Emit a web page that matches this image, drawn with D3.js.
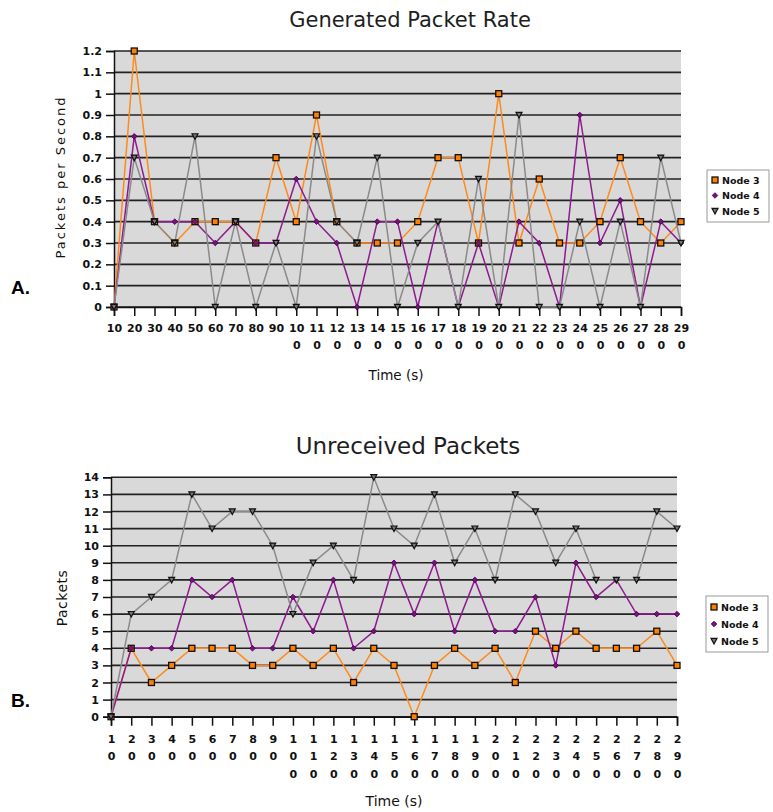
<!DOCTYPE html>
<html>
<head>
<meta charset="utf-8">
<script src="https://cdn.jsdelivr.net/npm/d3@7"></script>
<style>
  html, body { margin: 0; padding: 0; background: #fff; }
  svg { display: block; }
  text { font-family: "DejaVu Sans", sans-serif; }
</style>
</head>
<body>
<svg id="chart" width="773" height="812"></svg>
<script>
// ---------- data ----------
const timeLabels = ["10","20","30","40","50","60","70","80","90","100","110","120","130","140","150","160","170","180","190","200","210","220","230","240","250","260","270","280","290"];
const seriesNames = ["Node 3", "Node 4", "Node 5"];

// Chart A: Generated Packet Rate (packets per second)
const rateTicks = [0,0.1,0.2,0.3,0.4,0.5,0.6,0.7,0.8,0.9,1,1.1,1.2];
const rateNode3 = [0,1.2,0.4,0.3,0.4,0.4,0.4,0.3,0.7,0.4,0.9,0.4,0.3,0.3,0.3,0.4,0.7,0.7,0.3,1.0,0.3,0.6,0.3,0.3,0.4,0.7,0.4,0.3,0.4];
const rateNode4 = [0,0.8,0.4,0.4,0.4,0.3,0.4,0.3,0.3,0.6,0.4,0.3,0,0.4,0.4,0,0.4,0,0.3,0,0.4,0.3,0,0.9,0.3,0.5,0,0.4,0.3];
const rateNode5 = [0,0.7,0.4,0.3,0.8,0,0.4,0,0.3,0,0.8,0.4,0.3,0.7,0,0.3,0.4,0,0.6,0,0.9,0,0,0.4,0,0.4,0,0.7,0.3];

// Chart B: Unreceived Packets
const packetTicks = [0,1,2,3,4,5,6,7,8,9,10,11,12,13,14];
const unrecNode3 = [0,4,2,3,4,4,4,3,3,4,3,4,2,4,3,0,3,4,3,4,2,5,4,5,4,4,4,5,3];
const unrecNode4 = [0,4,4,4,8,7,8,4,4,7,5,8,4,5,9,6,9,5,8,5,5,7,3,9,7,8,6,6,6];
const unrecNode5 = [0,6,7,8,13,11,12,12,10,6,9,10,8,14,11,10,13,9,11,8,13,12,9,11,8,8,8,12,11];

// ---------- styles ----------
const lineColors = ["#ff8a1c", "#8e1a90", "#8a8a8a"];
const svg = d3.select("#chart");

function drawChart(cfg) {
  const g = svg.append("g");
  const x = d3.scalePoint().domain(timeLabels).range([cfg.left, cfg.right]);
  const y = d3.scaleLinear().domain([0, cfg.yMax]).range([cfg.bottom, cfg.top]);

  // background
  g.append("rect")
    .attr("x", cfg.left).attr("y", cfg.top)
    .attr("width", cfg.right - cfg.left).attr("height", cfg.bottom - cfg.top)
    .attr("fill", "#d9d9d9");

  // gridlines
  g.append("g").selectAll("line").data(cfg.ticks).join("line")
    .attr("x1", cfg.left).attr("x2", cfg.right)
    .attr("y1", d => y(d)).attr("y2", d => y(d))
    .attr("stroke", "#222").attr("stroke-width", 1.6);

  // y axis
  const yAxis = d3.axisLeft(y).tickValues(cfg.ticks).tickSize(8).tickPadding(4)
    .tickFormat(d => cfg.fmt(d));
  const ya = g.append("g").attr("transform", `translate(${cfg.left},0)`).call(yAxis);
  ya.select(".domain").attr("stroke", "#111").attr("stroke-width", 1.5);
  ya.selectAll(".tick line").attr("stroke", "#111").attr("stroke-width", 1.5);
  ya.selectAll(".tick text").attr("fill", "#111").style("font-size", "11px").style("font-weight", "bold");

  // x axis
  const xAxis = d3.axisBottom(x).tickSize(9).tickPadding(5).tickFormat("");
  const xa = g.append("g").attr("transform", `translate(0,${cfg.bottom})`).call(xAxis);
  xa.select(".domain").attr("stroke", "#111").attr("stroke-width", 1.5);
  xa.selectAll(".tick line").attr("stroke", "#111").attr("stroke-width", 1.5);
  xa.selectAll(".tick").each(function(d) {
    const parts = [];
    for (let i = 0; i < d.length; i += cfg.chunk) parts.push(d.slice(i, i + cfg.chunk));
    const t = d3.select(this).append("text")
      .attr("fill", "#111").attr("text-anchor", "middle")
      .style("font-size", "11px").style("font-weight", "bold");
    parts.forEach((p, i) => {
      t.append("tspan").attr("x", 0).attr("y", cfg.labelY + i * cfg.lineH).text(p);
    });
  });

  // series
  const series = [cfg.s3, cfg.s4, cfg.s5];
  const line = d3.line().x((d, i) => x(timeLabels[i])).y(d => y(d));
  series.forEach((s, k) => {
    g.append("path").datum(s).attr("d", line)
      .attr("fill", "none").attr("stroke", lineColors[k]).attr("stroke-width", 1.5);
  });
  // markers
  series.forEach((s, k) => {
    const mg = g.append("g");
    s.forEach((v, i) => {
      drawMarker(mg, k, x(timeLabels[i]), y(v));
    });
  });

  // titles
  svg.append("text").attr("x", cfg.titleX).attr("y", cfg.titleY)
    .attr("text-anchor", "middle").attr("fill", "#1e1e1e")
    .style("font-size", cfg.titleSize + "px").style("font-weight", "normal")
    .text(cfg.title);
  svg.append("text").attr("x", cfg.xTitleX).attr("y", cfg.xTitleY)
    .attr("text-anchor", "middle").attr("fill", "#111")
    .style("font-size", cfg.xTitleSize + "px").text("Time (s)");
  svg.append("text")
    .attr("transform", `translate(${cfg.yTitleX},${cfg.yTitleY}) rotate(-90)`)
    .attr("text-anchor", "middle").attr("fill", "#111")
    .style("font-size", cfg.yTitleSize + "px").style("letter-spacing", cfg.yTitleSpacing)
    .text(cfg.yTitle);
  svg.append("text").attr("x", 11).attr("y", cfg.letterY)
    .attr("fill", "#000").style("font-family", "'Liberation Sans', Arial, sans-serif")
    .style("font-size", "19px").style("font-weight", "bold").text(cfg.letter);

  // legend
  const lg = svg.append("g").attr("transform", `translate(${cfg.legX},${cfg.legY})`);
  lg.append("rect").attr("x", 0).attr("y", 0).attr("width", 62).attr("height", cfg.legH)
    .attr("fill", "#fff").attr("stroke", "#999").attr("stroke-width", 1);
  seriesNames.forEach((n, k) => {
    const yy = cfg.legRow0 + k * cfg.legStep;
    drawMarker(lg, k, 8, yy);
    lg.append("text").attr("x", 15).attr("y", yy + 3.5).attr("fill", "#111")
      .style("font-size", "9.5px").style("font-weight", "bold").text(n);
  });
}

function drawMarker(g, k, cx, cy) {
  if (k === 0) {
    g.append("rect").attr("x", cx - 3).attr("y", cy - 3).attr("width", 6).attr("height", 6)
      .attr("fill", "#ff7f00").attr("stroke", "#111").attr("stroke-width", 1.3);
  } else if (k === 1) {
    g.append("path").attr("d", `M${cx},${cy-2.8}L${cx+2.8},${cy}L${cx},${cy+2.8}L${cx-2.8},${cy}Z`)
      .attr("fill", "#7a1080").attr("stroke", "#3a0040").attr("stroke-width", 0.8);
  } else {
    g.append("path").attr("d", `M${cx-3},${cy-2.6}L${cx+3},${cy-2.6}L${cx},${cy+3}Z`)
      .attr("fill", "#777").attr("stroke", "#111").attr("stroke-width", 1.2);
  }
}

drawChart({
  left: 114, right: 681, top: 51, bottom: 307, yMax: 1.2, ticks: rateTicks,
  fmt: d => d3.format("~g")(d),
  s3: rateNode3, s4: rateNode4, s5: rateNode5,
  chunk: 2, labelY: 25, lineH: 17,
  title: "Generated Packet Rate", titleX: 410, titleY: 27, titleSize: 21,
  xTitleX: 396, xTitleY: 380, xTitleSize: 13.5,
  yTitle: "Packets per Second", yTitleX: 65, yTitleY: 177, yTitleSize: 13, yTitleSpacing: "2px",
  letter: "A.", letterY: 294,
  legX: 707, legY: 170, legH: 52, legRow0: 10, legStep: 15.5
});

drawChart({
  left: 111, right: 677, top: 477.3, bottom: 716.7, yMax: 14, ticks: packetTicks,
  fmt: d => String(d),
  s3: unrecNode3, s4: unrecNode4, s5: unrecNode5,
  chunk: 1, labelY: 26, lineH: 17.5,
  title: "Unreceived Packets", titleX: 408, titleY: 454, titleSize: 23,
  xTitleX: 394, xTitleY: 806, xTitleSize: 14,
  yTitle: "Packets", yTitleX: 67, yTitleY: 598, yTitleSize: 14, yTitleSpacing: "0.5px",
  letter: "B.", letterY: 707,
  legX: 706, legY: 596, legH: 56, legRow0: 11, legStep: 17
});
</script>
</body>
</html>
